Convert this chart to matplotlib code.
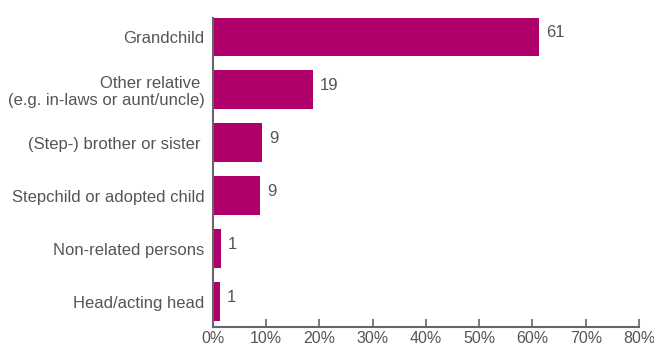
import matplotlib
matplotlib.use("Agg")
import matplotlib.pyplot as plt
from matplotlib.ticker import FuncFormatter

plt.rcParams['font.family'] = ['Liberation Sans Narrow', 'Liberation Sans', 'DejaVu Sans']

categories = ["Grandchild",
              "Other relative \n(e.g. in-laws or aunt/uncle)",
              "(Step-) brother or sister ",
              "Stepchild or adopted child",
              "Non-related persons",
              "Head/acting head"]
values = [61.3, 18.8, 9.2, 8.8, 1.5, 1.3]
value_labels = ["61", "19", "9", "9", "1", "1"]
x_ticks = [0, 10, 20, 30, 40, 50, 60, 70, 80]

bar_color = "#B0006B"
text_color = "#555555"
axis_color = "#666666"

fig = plt.figure(figsize=(6.54, 3.5), dpi=100)
ax = fig.add_axes([0.3257, 0.0657, 0.977 - 0.3257, 0.95 - 0.0657])

pos = list(range(len(categories)))
ax.barh(pos, values, height=0.73, color=bar_color)
for p, v, lab in zip(pos, values, value_labels):
    ax.annotate(lab, (v, p), xytext=(5, 3), textcoords="offset points",
                ha="left", va="center", fontsize=12, color=text_color)

ax.set_xlim(0, 80)
ax.set_ylim(5.48, -0.36)
ax.set_xticks(x_ticks)
ax.xaxis.set_major_formatter(FuncFormatter(lambda v, _: f"{int(v)}%"))
ax.set_yticks(pos)
ax.set_yticklabels(categories)

for s in ["top", "right"]:
    ax.spines[s].set_visible(False)
for s in ["left", "bottom"]:
    ax.spines[s].set_color(axis_color)
    ax.spines[s].set_linewidth(1.5)

ax.tick_params(axis="x", direction="in", length=6, width=1.2, color=axis_color,
               labelsize=11.5, labelcolor=text_color, pad=3)
ax.tick_params(axis="y", length=0, labelsize=12, labelcolor=text_color, pad=6)

fig.savefig("out.png", dpi=100)
